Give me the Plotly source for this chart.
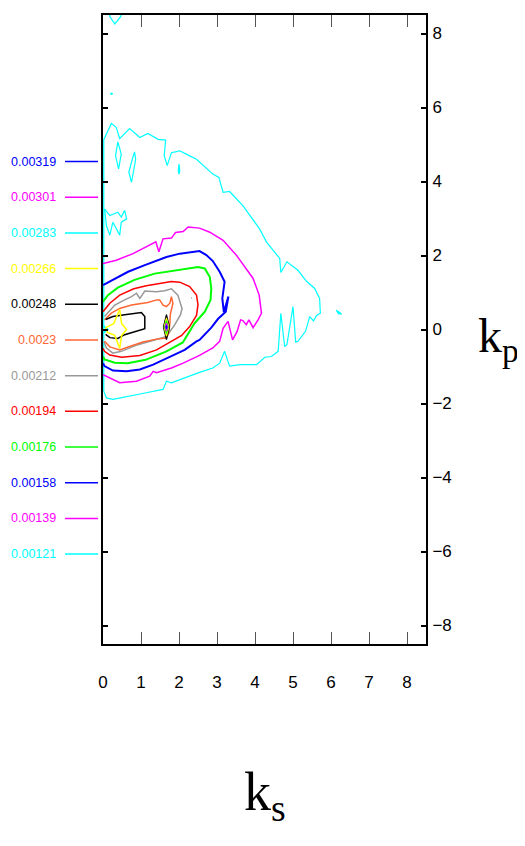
import plotly.graph_objects as go

# ---------------- legend / contour levels ----------------
level_labels = ["0.00319", "0.00301", "0.00283", "0.00266", "0.00248", "0.0023",
                "0.00212", "0.00194", "0.00176", "0.00158", "0.00139", "0.00121"]
level_colors = ["#0000ff", "#ff00ff", "#00ffff", "#ffff00", "#000000", "#ff6633",
                "#999999", "#ff0000", "#00ff00", "#0000ff", "#ff00ff", "#00ffff"]

x_ticks = [0, 1, 2, 3, 4, 5, 6, 7, 8]
y_ticks = [-8, -6, -4, -2, 0, 2, 4, 6, 8]

# ---------------- contour lines (ks, kp) ----------------
# level 0.00121 (cyan) outer contour
c121_x = [0.02, 0.02, 0.22, 0.35, 0.44, 0.70, 0.97, 1.18, 1.45, 1.65, 1.61, 1.69, 1.80, 2.02, 2.19,
          2.46, 2.89, 3.05, 3.16, 3.33, 3.68, 4.12, 4.30, 4.65, 4.68, 4.84, 5.13, 5.35, 5.57, 5.70,
          5.72, 5.62, 5.54, 5.44, 5.33, 5.13, 5.07, 5.00, 4.84, 4.78, 4.68, 4.61, 4.43, 4.26, 4.04,
          3.60, 3.33, 3.20, 3.07, 2.89, 2.54, 2.06, 1.80, 1.67, 1.58, 1.14, 0.70, 0.26, 0.09, 0.02]
c121_y = [-1.67, 5.13, 5.57, 5.46, 5.16, 5.43, 5.19, 5.30, 5.14, 5.12, 4.70, 4.43, 4.78, 4.83, 4.74,
          4.60, 4.20, 4.11, 3.71, 3.73, 3.35, 2.72, 2.37, 1.92, 1.54, 1.83, 1.60, 1.31, 1.11, 0.84,
          0.44, 0.38, 0.23, 0.35, -0.05, -0.32, -0.34, 0.62, -0.41, -0.46, 0.44, -0.59, -0.73, -0.75, -0.95,
          -0.95, -0.99, -0.59, -0.91, -1.04, -1.16, -1.35, -1.44, -1.40, -1.62, -1.71, -1.80, -1.89, -1.85, -1.67]
# small cyan islands
c121_a_x = [0.39, 0.48, 0.41, 0.33, 0.39]
c121_a_y = [5.07, 4.74, 4.34, 4.70, 5.07]
c121_b_x = [0.83, 0.86, 0.75, 0.68, 0.77, 0.83]
c121_b_y = [4.80, 4.60, 3.98, 4.25, 4.60, 4.80]
c121_c_x = [2.00, 2.02, 2.00, 1.98, 2.00]
c121_c_y = [4.47, 4.30, 4.20, 4.30, 4.47]
c121_d_x = [0.04, 0.18, 0.39, 0.48, 0.57, 0.62, 0.48, 0.44, 0.26, 0.18, 0.09, 0.04]
c121_d_y = [3.26, 3.08, 3.17, 3.04, 3.22, 2.99, 2.90, 2.55, 2.90, 2.55, 2.81, 3.26]
c121_e_x = [0.16, 0.18, 0.31, 0.47, 0.49]
c121_e_y = [8.60, 8.46, 8.26, 8.46, 8.60]
c121_f_x = [0.21, 0.23, 0.22, 0.21]
c121_f_y = [6.39, 6.37, 6.35, 6.39]
c121_g_x = [6.14, 6.20, 6.28, 6.14]
c121_g_y = [0.52, 0.42, 0.42, 0.52]
c121_h_x = [0.0, 0.12, 0.0]
c121_h_y = [0.10, 0.0, -0.10]

# level 0.00139 (magenta)
c139_x = [0.00, 0.35, 0.79, 1.05, 1.32, 1.39, 1.47, 1.58, 1.80, 1.91, 2.11, 2.24, 2.54, 2.81, 3.16,
          3.51, 3.95, 4.11, 4.17, 4.08, 3.95, 3.84, 3.77, 3.68, 3.62, 3.53, 3.41, 3.29, 3.16, 3.07,
          2.89, 2.54, 2.11, 1.80, 1.41, 1.32, 1.23, 0.88, 0.44, 0.26, 0.00]
c139_y = [1.78, 1.87, 2.05, 2.19, 2.32, 2.37, 2.10, 2.45, 2.47, 2.62, 2.65, 2.77, 2.74, 2.63, 2.41,
          2.01, 1.38, 0.93, 0.44, 0.26, 0.05, 0.26, 0.13, 0.24, 0.26, -0.05, -0.28, 0.22, 0.03, -0.32,
          -0.50, -0.70, -0.91, -1.04, -1.17, -1.13, -1.26, -1.40, -1.44, -1.35, -1.22]

# level 0.00158 (blue)
c158_x = [0.00, 0.31, 0.66, 1.10, 1.32, 1.67, 2.02, 2.54, 2.72, 2.89, 3.07, 3.20, 3.14, 3.18, 3.30,
          3.23, 3.03, 2.85, 2.54, 2.46, 2.15, 1.71, 1.54, 1.32, 0.97, 0.62, 0.26, 0.04, 0.00]
c158_y = [1.20, 1.38, 1.56, 1.74, 1.83, 1.96, 2.05, 2.12, 2.01, 1.85, 1.56, 1.29, 0.84, 0.47, 0.89,
          0.48, 0.29, 0.05, -0.28, -0.32, -0.55, -0.77, -0.86, -0.95, -1.08, -1.13, -1.11, -0.99, -0.91]

# level 0.00176 (green)
c176_x = [0.00, 0.13, 0.39, 0.83, 1.36, 1.89, 2.50, 2.68, 2.81, 2.85, 2.83, 2.68, 2.41, 2.10, 1.67,
          1.12, 0.65, 0.31, 0.04, 0.00]
c176_y = [0.75, 0.93, 1.13, 1.34, 1.51, 1.60, 1.69, 1.65, 1.42, 1.11, 0.80, 0.48, 0.17, -0.35, -0.59,
          -0.82, -0.91, -0.90, -0.81, -0.73]

# level 0.00194 (red)
c194_x = [0.00, 0.18, 0.44, 0.81, 1.14, 1.49, 1.80, 2.02, 2.28, 2.46, 2.50, 2.46, 2.28, 2.07, 1.76,
          1.41, 0.97, 0.49, 0.18, 0.04, 0.00]
c194_y = [0.48, 0.71, 0.93, 1.10, 1.18, 1.25, 1.30, 1.28, 1.16, 0.93, 0.67, 0.38, 0.08, -0.16, -0.35,
          -0.55, -0.70, -0.75, -0.69, -0.59, -0.51]

# level 0.00212 (grey)
c212_x = [0.04, 0.31, 0.57, 0.75, 0.88, 0.97, 1.10, 1.41, 1.62, 1.80, 1.97, 2.08, 2.04, 1.89, 1.67,
          1.36, 0.92, 0.48, 0.26, 0.09, 0.02]
c212_y = [0.35, 0.66, 0.80, 0.89, 0.98, 0.84, 1.04, 1.02, 1.05, 1.10, 0.93, 0.57, 0.40, 0.13, -0.19,
          -0.28, -0.41, -0.59, -0.64, -0.50, -0.32]
c212_dot_x = [2.32, 2.34, 2.33, 2.32]
c212_dot_y = [0.85, 0.85, 0.83, 0.85]

# level 0.0023 (orange)
c230_x = [0.04, 0.22, 0.44, 0.75, 1.18, 1.41, 1.49, 1.58, 1.67, 1.76, 1.80, 1.84, 1.77, 1.76, 1.72,
          1.67, 1.41, 1.05, 0.70, 0.44, 0.18, 0.04]
c230_y = [0.26, 0.44, 0.57, 0.66, 0.73, 0.80, 0.80, 0.66, 0.62, 0.71, 0.89, 0.71, 0.40, 0.16, -0.11,
          -0.23, -0.26, -0.34, -0.46, -0.55, -0.47, -0.32]

# level 0.00248 (black)
c248_x = [0.07, 0.26, 0.57, 1.01, 1.10, 1.10, 0.57, 0.39, 0.18, 0.07]
c248_y = [0.27, 0.35, 0.40, 0.46, 0.35, 0.02, -0.14, -0.24, -0.22, -0.13]

# level 0.00266 (yellow) star
c266_x = [0.07, 0.28, 0.44, 0.49, 0.62, 0.49, 0.44, 0.31, 0.12, 0.07]
c266_y = [0.05, 0.16, 0.54, 0.16, 0.00, -0.16, -0.51, -0.16, -0.08, 0.05]

# nested small peak near ks=1.67 (outer -> inner)
peak_colors = ["#000000", "#ffff00", "#00ff00", "#ff00ff", "#0000ff"]
peak_x = [[1.67, 1.75, 1.67, 1.59, 1.67],
          [1.67, 1.73, 1.67, 1.61, 1.67],
          [1.67, 1.715, 1.67, 1.625, 1.67],
          [1.67, 1.70, 1.67, 1.64, 1.67],
          [1.67, 1.685, 1.67, 1.655, 1.67]]
peak_y = [[0.40, 0.07, -0.27, 0.07, 0.40],
          [0.31, 0.07, -0.18, 0.07, 0.31],
          [0.24, 0.07, -0.11, 0.07, 0.24],
          [0.17, 0.07, -0.04, 0.07, 0.17],
          [0.11, 0.07, 0.02, 0.07, 0.11]]

CYAN, MAG, BLUE, GREEN = "#00ffff", "#ff00ff", "#0000ff", "#00ff00"
RED, GREY, ORANGE, BLACK, YELLOW = "#ff0000", "#999999", "#ff6633", "#000000", "#ffff00"

lines = [
    (c121_x, c121_y, CYAN, 1.2), (c121_a_x, c121_a_y, CYAN, 1.2), (c121_b_x, c121_b_y, CYAN, 1.2),
    (c121_c_x, c121_c_y, CYAN, 1.2), (c121_d_x, c121_d_y, CYAN, 1.2), (c121_e_x, c121_e_y, CYAN, 1.2),
    (c121_f_x, c121_f_y, CYAN, 2), (c121_g_x, c121_g_y, CYAN, 1.2), (c121_h_x, c121_h_y, CYAN, 2),
    (c139_x, c139_y, MAG, 1.5), (c158_x, c158_y, BLUE, 2), (c176_x, c176_y, GREEN, 2),
    (c194_x, c194_y, RED, 1.5), (c212_x, c212_y, GREY, 1.5), (c212_dot_x, c212_dot_y, GREY, 1.5),
    (c230_x, c230_y, ORANGE, 1.5), (c248_x, c248_y, BLACK, 1.5), (c266_x, c266_y, YELLOW, 1.5),
]

fig = go.Figure()
for xs, ys, col, w in lines:
    fig.add_trace(go.Scatter(x=xs, y=ys, mode="lines", line=dict(color=col, width=w),
                             showlegend=False, hoverinfo="skip"))
for xs, ys, col in zip(peak_x, peak_y, peak_colors):
    fig.add_trace(go.Scatter(x=xs, y=ys, mode="lines", line=dict(color=col, width=1.2),
                             showlegend=False, hoverinfo="skip"))

# ---------------- layout ----------------
# the page body adds an 8px offset; plot box on screen spans x 103..426, y 13..644
OFF = 8
W, H = 525 - OFF, 846 - OFF
PX0, PX1, PY0, PY1 = 103, 426, 13, 644
L, R, T, B = PX0 - OFF, W - (PX1 - OFF), PY0 - OFF, H - (PY1 - OFF)
pw, ph = PX1 - PX0, PY1 - PY0


def xp(sx):
    return (sx - PX0) / pw


def yp(sy):
    return (PY1 - sy) / ph


SANS = "Liberation Sans, Arial, sans-serif"

annotations = []
shapes = []
for i, (lab, col) in enumerate(zip(level_labels, level_colors)):
    sy = 160 + i * 35.8
    annotations.append(dict(text=lab, x=xp(58), y=yp(sy), xref="paper", yref="paper",
                            xanchor="right", yanchor="middle", showarrow=False,
                            font=dict(family=SANS, size=12.5, color=col)))
    shapes.append(dict(type="line", xref="paper", yref="paper",
                       x0=xp(65), x1=xp(98), y0=yp(sy), y1=yp(sy),
                       line=dict(color=col, width=1.5)))

annotations.append(dict(text="k<sub>s</sub>", x=xp(265), y=yp(796),
                        xref="paper", yref="paper", xanchor="center", yanchor="middle",
                        showarrow=False, font=dict(family="Liberation Serif", size=54, color="black")))
annotations.append(dict(text="k<sub>p</sub>", x=xp(521), y=yp(338),
                        xref="paper", yref="paper", xanchor="right", yanchor="middle",
                        showarrow=False, font=dict(family="Liberation Serif", size=48, color="black")))

fig.update_layout(
    width=W, height=H,
    margin=dict(l=L, r=R, t=T, b=B, pad=0),
    paper_bgcolor="white", plot_bgcolor="white",
    showlegend=False,
    annotations=annotations, shapes=shapes,
    xaxis=dict(range=[0, 8.5], tickvals=x_ticks, ticks="inside", ticklen=12, tickwidth=1,
               tickcolor="#555555", showline=True, linecolor="black", linewidth=2, mirror="ticks",
               showgrid=False, zeroline=False, ticklabelstandoff=22,
               tickfont=dict(family=SANS, size=17, color="black")),
    yaxis=dict(range=[-8.5, 8.5], tickvals=y_ticks, side="right", ticks="inside", ticklen=5,
               tickwidth=2, tickcolor="black", showline=True, linecolor="black", linewidth=2,
               mirror="ticks", showgrid=False, zeroline=False, ticklabelstandoff=1,
               tickfont=dict(family=SANS, size=17, color="black")),
)

fig.write_html("out.html")
